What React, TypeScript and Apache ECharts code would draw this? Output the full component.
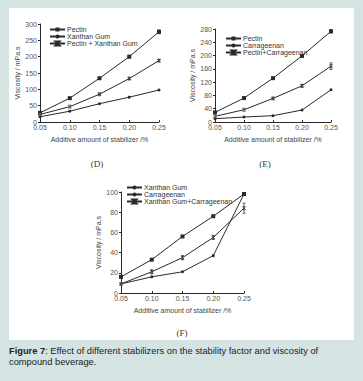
import React, { useEffect, useRef } from "react";
import * as echarts from "echarts";

const xLabels = ["0.05", "0.10", "0.15", "0.20", "0.25"];

// Panel D
const dPectin = [28, 73, 134, 200, 276];
const dXanthan = [16, 33, 56, 76, 98];
const dPectinXanthan = [23, 47, 85, 133, 188];
const dPectinErr = [0, 2, 3, 4, 6];
const dPectinXanthanErr = [0, 1, 2, 3, 3];

// Panel E
const ePectin = [29, 72, 132, 199, 273];
const eCarrageenan = [10, 15, 19, 36, 97];
const ePectinCarrageenan = [17, 37, 71, 109, 168];
const ePectinErr = [0, 0, 0, 2, 5];
const ePectinCarrageenanErr = [0, 1, 2, 4, 10];

// Panel F
const fXanthan = [16, 33, 56, 76, 98];
const fCarrageenan = [9, 16, 21, 37, 98];
const fXanthanCarrageenan = [9, 21, 35, 55, 84];
const fXanthanCarrageenanErr = [0, 2, 2, 2, 5];

const yAxisName = "Viscosity / mPa.s";
const xAxisName = "Additive amount of stabilizer /%";

const FONT = "'Liberation Sans', Arial, sans-serif";
const INK = "#2a2a2a";
const LABEL = "#555";

const hourglass = "path://M0,0L6,0L0,6L6,6Z";

function errSeries(values: number[], errs: number[], axisIndex: number) {
  return {
    type: "custom",
    xAxisIndex: axisIndex,
    yAxisIndex: axisIndex,
    silent: true,
    z: 5,
    data: values.map((v, i) => [i, v - errs[i], v + errs[i]]),
    renderItem: (params: any, api: any) => {
      const lo = api.coord([api.value(0), api.value(1)]);
      const hi = api.coord([api.value(0), api.value(2)]);
      if (Math.abs(hi[1] - lo[1]) < 1) return { type: "group", children: [] };
      const style = { stroke: INK, lineWidth: 0.7 };
      return {
        type: "group",
        children: [
          { type: "line", shape: { x1: lo[0], y1: lo[1], x2: hi[0], y2: hi[1] }, style },
          { type: "line", shape: { x1: lo[0] - 1.5, y1: lo[1], x2: lo[0] + 1.5, y2: lo[1] }, style },
          { type: "line", shape: { x1: hi[0] - 1.5, y1: hi[1], x2: hi[0] + 1.5, y2: hi[1] }, style },
        ],
      };
    },
  };
}

function lineSeries(name: string, data: number[], axisIndex: number, kind: number) {
  const symbols = ["rect", "circle", hourglass];
  const sizes = [4, 3, 3];
  return {
    type: "line",
    name,
    data,
    xAxisIndex: axisIndex,
    yAxisIndex: axisIndex,
    symbol: symbols[kind],
    symbolSize: sizes[kind],
    showSymbol: true,
    lineStyle: { color: INK, width: 1 },
    itemStyle:
      kind === 2
        ? { color: "#fff", borderColor: INK, borderWidth: 0.7 }
        : { color: INK, borderColor: INK, borderWidth: 0 },
    z: 3,
  };
}

function xAxis(gridIndex: number) {
  return {
    type: "category",
    gridIndex,
    data: xLabels,
    boundaryGap: false,
    axisLine: { lineStyle: { color: INK, width: 1 } },
    axisTick: { show: true, inside: true, length: 2, lineStyle: { color: INK } },
    axisLabel: { fontSize: 7, color: LABEL, fontFamily: FONT, margin: 2 },
    name: xAxisName,
    nameLocation: "middle",
    nameGap: 14,
    nameTextStyle: { fontSize: 7, color: "#444", fontFamily: FONT },
    splitLine: { show: false },
  };
}

function yAxis(gridIndex: number, max: number, interval: number, nameGap: number) {
  return {
    type: "value",
    gridIndex,
    min: 0,
    max,
    interval,
    axisLine: { show: true, lineStyle: { color: INK, width: 1 } },
    axisTick: { show: true, length: 2, lineStyle: { color: INK } },
    axisLabel: { fontSize: 7, color: LABEL, fontFamily: FONT, margin: 3 },
    name: yAxisName,
    nameLocation: "middle",
    nameGap,
    nameTextStyle: { fontSize: 7, color: "#444", fontFamily: FONT },
    splitLine: { show: false },
  };
}

function legend(left: number, top: number, names: string[]) {
  return {
    left,
    top,
    orient: "vertical",
    itemWidth: 15,
    itemHeight: 5,
    itemGap: 0,
    padding: 0,
    selectedMode: false,
    data: names,
    textStyle: { fontSize: 7, color: "#333", fontFamily: FONT, padding: [0, 0, 0, -3] },
  };
}

export default function App() {
  const ref = useRef<HTMLDivElement>(null);
  useEffect(() => {
    if (!ref.current) return;
    const chart = echarts.init(ref.current, undefined, { renderer: "svg" });
    chart.setOption({
      animation: false,
      backgroundColor: "#d5e3e3",
      graphic: [
        { type: "rect", shape: { x: 9, y: 8, width: 345, height: 332 }, style: { fill: "#ffffff" }, z: -10 },
        { type: "text", x: 97, y: 164, style: { text: "(D)", font: "9px 'Liberation Serif', serif", fill: "#333", align: "center", verticalAlign: "middle" } },
        { type: "text", x: 265, y: 164, style: { text: "(E)", font: "9px 'Liberation Serif', serif", fill: "#333", align: "center", verticalAlign: "middle" } },
        { type: "text", x: 182, y: 333, style: { text: "(F)", font: "9px 'Liberation Serif', serif", fill: "#333", align: "center", verticalAlign: "middle" } },
        {
          type: "text",
          x: 9,
          y: 345,
          style: {
            text: "{b|Figure 7}: Effect of different stabilizers on the stability factor and viscosity of\ncompound beverage.",
            rich: {
              b: { fontWeight: "bold", fontSize: 9.3, fontFamily: FONT, fill: "#222" },
            },
            fontSize: 9.3,
            fontFamily: FONT,
            fill: "#222",
            lineHeight: 11.5,
          },
        },
      ],
      grid: [
        { left: 40, top: 24, width: 119, height: 98 },
        { left: 215, top: 29, width: 116, height: 93 },
        { left: 121, top: 192, width: 123, height: 101 },
      ],
      xAxis: [xAxis(0), xAxis(1), xAxis(2)],
      yAxis: [yAxis(0, 300, 50, 18), yAxis(1, 280, 40, 15), yAxis(2, 100, 20, 17)],
      legend: [
        legend(49, 26, ["Pectin", "Xanthan Gum", "Pectin + Xanthan Gum"]),
        legend(225, 35, ["Pectin", "Carrageenan", "Pectin+Carrageenan"]),
        legend(126, 184, ["Xanthan Gum", "Carrageenan", "Xanthan Gum+Carrageenan"]),
      ],
      series: [
        lineSeries("Pectin", dPectin, 0, 0),
        lineSeries("Xanthan Gum", dXanthan, 0, 1),
        lineSeries("Pectin + Xanthan Gum", dPectinXanthan, 0, 2),
        errSeries(dPectin, dPectinErr, 0),
        errSeries(dPectinXanthan, dPectinXanthanErr, 0),
        lineSeries("Pectin", ePectin, 1, 0),
        lineSeries("Carrageenan", eCarrageenan, 1, 1),
        lineSeries("Pectin+Carrageenan", ePectinCarrageenan, 1, 2),
        errSeries(ePectin, ePectinErr, 1),
        errSeries(ePectinCarrageenan, ePectinCarrageenanErr, 1),
        lineSeries("Xanthan Gum", fXanthan, 2, 0),
        lineSeries("Carrageenan", fCarrageenan, 2, 1),
        lineSeries("Xanthan Gum+Carrageenan", fXanthanCarrageenan, 2, 2),
        errSeries(fXanthanCarrageenan, fXanthanCarrageenanErr, 2),
      ],
    });
    return () => chart.dispose();
  }, []);
  return (
    <div
      ref={ref}
      style={{ position: "fixed", left: 0, top: 0, width: 363, height: 381 }}
    />
  );
}
